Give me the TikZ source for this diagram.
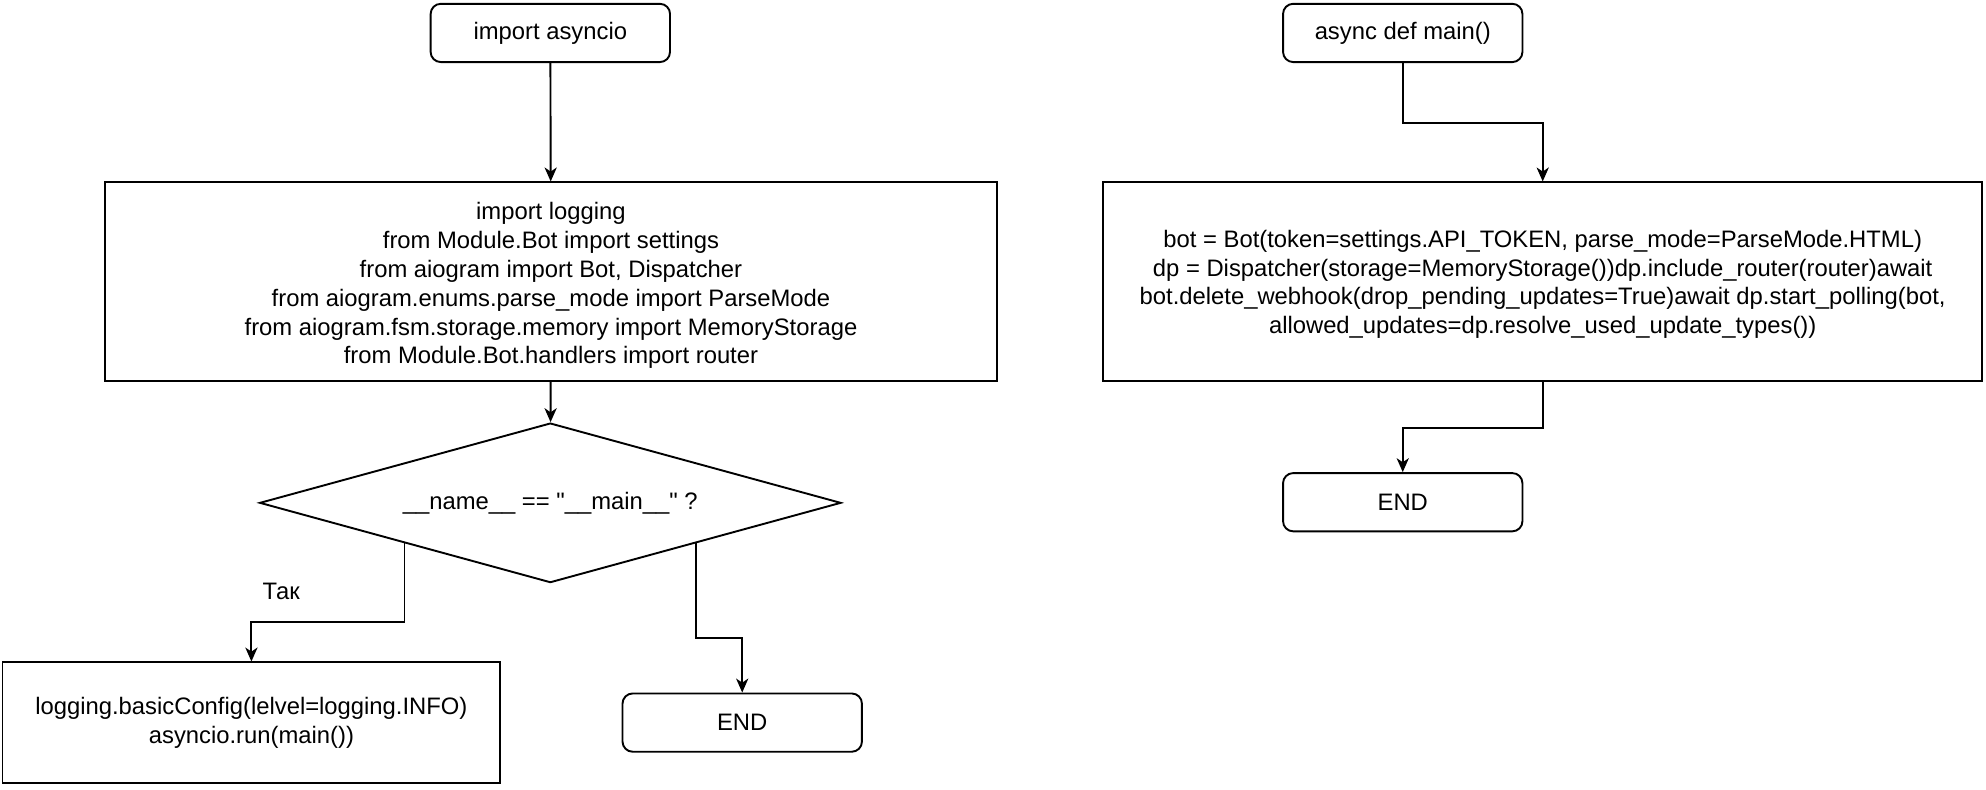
\documentclass[tikz,border=0pt]{standalone}
\usepackage{fontspec}
\setmainfont{Liberation Sans}
\usetikzlibrary{shapes.geometric,arrows.meta,calc}
\begin{document}
\begin{tikzpicture}[x=0.5pt,y=-0.5pt,
  every node/.style={font=\fontsize{9.4pt}{11.4pt}\selectfont, inner sep=0pt, align=center},
  conn/.style={line width=0.75pt, -{Stealth[length=5.5pt,width=4.8pt,inset=1.6pt]}},
  term/.style={draw, line width=0.75pt, rounded corners=4pt, rectangle, minimum width=94.5pt, minimum height=23pt},
  proc/.style={draw, line width=0.75pt, rectangle},
  dec/.style={draw, line width=0.75pt, diamond, minimum width=229.5pt, minimum height=63pt, inner sep=0pt}
]
\useasboundingbox (0,0) rectangle (1568,623);

% left column
\node[term] (imp) at (434.5,26) {import asyncio};
\node[proc, minimum width=352pt, minimum height=78.5pt] (imports) at (435,222.5) {};
\node at ($(imports.center)+(0,3)$)
  {import logging\\from Module.Bot import settings\\from aiogram import Bot, Dispatcher\\from aiogram.enums.parse\_mode import ParseMode\\from aiogram.fsm.storage.memory import MemoryStorage\\from Module.Bot.handlers import router};
\node[dec] (dec) at (434.5,397) {};
\node at (434.5,397) {\_\_name\_\_ == \textquotedbl\_\_main\_\_\textquotedbl\ ?};
\node[proc, minimum width=196.5pt, minimum height=47.5pt] (run) at (198.5,570.5)
  {logging.basicConfig(lelvel=logging.INFO)\\asyncio.run(main())};
\node[term] (endl) at (586,570.5) {END};

\coordinate (yes) at ($(dec.west)!0.5!(dec.south)$);
\coordinate (no) at ($(dec.east)!0.5!(dec.south)$);
\coordinate (yesb) at ($(yes)+(0,62.5)$);
\coordinate (nob) at ($(no)+(0,74.5)$);

\draw[conn] (imp) -- (imports);
\draw[conn] (imports) -- (dec);
\draw[conn] (yes) -- (yesb) -| (run.north);
\draw[conn] (no) -- (nob) -| (endl.north);
\node (tak) at (222,467) {Так};

% right column
\node[term] (main) at (1107.5,26) {async def main()};
\node[proc, minimum width=347pt, minimum height=78.5pt] (body) at (1218,222.5) {};
\node at ($(body.center)+(0,2)$)
  {bot = Bot(token=settings.API\_TOKEN, parse\_mode=ParseMode.HTML)\\dp = Dispatcher(storage=MemoryStorage())dp.include\_router(router)await\\bot.delete\_webhook(drop\_pending\_updates=True)await dp.start\_polling(bot,\\allowed\_updates=dp.resolve\_used\_update\_types())};
\node[term] (endr) at (1107.5,396.5) {END};

\coordinate (m1) at ($(main.south)+(0,47.5)$);
\coordinate (m2) at ($(body.south)+(0,36)$);
\draw[conn] (main.south) -- (m1) -| (body.north);
\draw[conn] (body.south) -- (m2) -| (endr.north);
\end{tikzpicture}
\end{document}
